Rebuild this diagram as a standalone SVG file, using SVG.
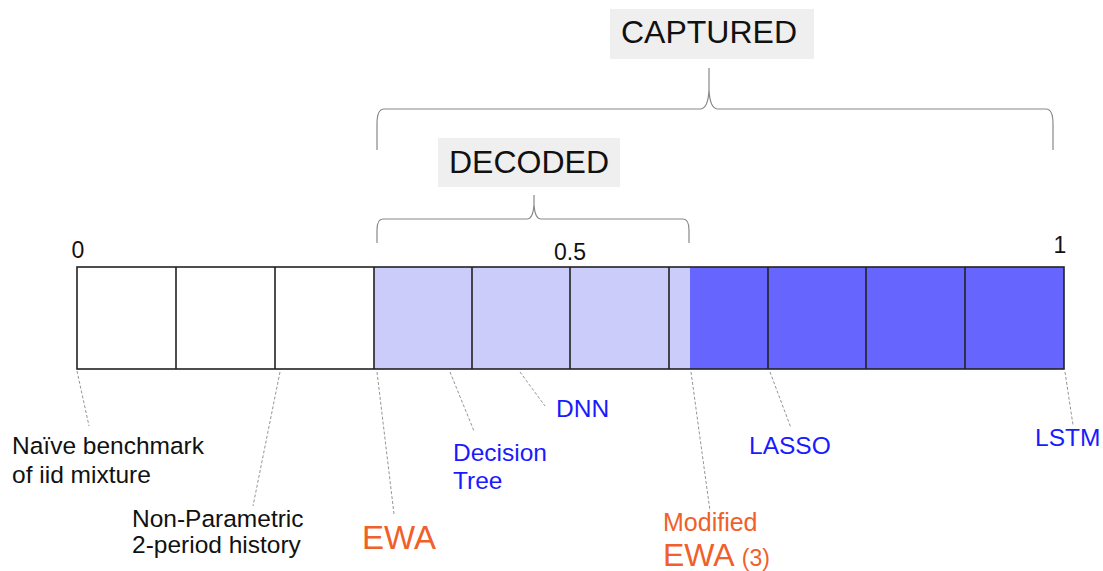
<svg xmlns="http://www.w3.org/2000/svg" width="1103" height="571" viewBox="0 0 1103 571">
  <style>
    text { font-family: "Liberation Sans", Arial, sans-serif; }
    .title { font-size: 32px; fill: #111; }
    .tick { font-size: 23px; fill: #111; }
    .lbl { font-size: 24.5px; fill: #111; }
    .blue { font-size: 24.5px; fill: #1a1aff; }
    .orange { fill: #f0602a; }
    .tag { fill: #efefef; }
    .brace { fill: none; stroke: #888; stroke-width: 1.2; }
    .leader { fill: none; stroke: #888; stroke-width: 0.9; stroke-dasharray: 3 2; }
    .cell { fill: none; stroke: #222; stroke-width: 1.6; }
  </style>

  <!-- CAPTURED bracket and tag -->
  <g id="captured">
    <rect class="tag" x="610" y="9" width="204" height="50"/>
    <text class="title" x="709" y="43" text-anchor="middle">CAPTURED</text>
    <path class="brace" d="M377,150 V124 Q377,109 384,109 H700 Q708,109 709,90 V68 V90 Q710,109 718,109 H1046 Q1053,109 1053,124 V150"/>
  </g>

  <!-- DECODED bracket and tag -->
  <g id="decoded">
    <rect class="tag" x="438" y="138" width="182" height="49"/>
    <text class="title" x="529" y="173" text-anchor="middle">DECODED</text>
    <path class="brace" d="M377,243 V230 Q377,219 383,219 H527 Q533,219 534,205 V195 V205 Q535,219 541,219 H683 Q689,219 689,230 V243"/>
  </g>

  <!-- scale bar from 0 to 1 -->
  <g id="scale">
    <rect x="374" y="267" width="316" height="102" fill="#ccccfa"/>
    <rect x="690" y="267" width="374" height="102" fill="#6666ff"/>
    <rect class="cell" x="77" y="267" width="987" height="102"/>
    <path class="cell" d="M176,267 V369 M275,267 V369 M374,267 V369 M472,267 V369 M570,267 V369 M669,267 V369 M768,267 V369 M866,267 V369 M965,267 V369"/>
    <text class="tick" x="78" y="258" text-anchor="middle">0</text>
    <text class="tick" x="570" y="260" text-anchor="middle">0.5</text>
    <text class="tick" x="1060" y="253" text-anchor="middle">1</text>
  </g>

  <!-- leader lines from the bar to the model labels -->
  <g id="connectors">
    <path class="leader" d="M77,371 L89,426"/>
    <path class="leader" d="M280,372 L253,506"/>
    <path class="leader" d="M377,372 L394,514"/>
    <path class="leader" d="M450,372 L474,431"/>
    <path class="leader" d="M520,372 L545,406"/>
    <path class="leader" d="M691,372 L710,511"/>
    <path class="leader" d="M770,372 L791,428"/>
    <path class="leader" d="M1065,372 L1073,425"/>
  </g>

  <g id="naive">
    <text class="lbl" x="12" y="454">Naïve benchmark</text>
    <text class="lbl" x="12" y="483">of iid mixture</text>
  </g>
  <g id="nonparametric">
    <text class="lbl" x="132" y="527">Non-Parametric</text>
    <text class="lbl" x="132" y="553">2-period history</text>
  </g>
  <g id="ewa">
    <text class="orange" x="362" y="549" font-size="33">EWA</text>
  </g>
  <g id="decision-tree">
    <text class="blue" x="453" y="461">Decision</text>
    <text class="blue" x="453" y="489">Tree</text>
  </g>
  <g id="dnn">
    <text class="blue" x="556" y="417">DNN</text>
  </g>
  <g id="modified-ewa">
    <text class="orange" x="663" y="531" font-size="25">Modified</text>
    <text class="orange" x="663" y="566" font-size="32">EWA <tspan font-size="23">(3)</tspan></text>
  </g>
  <g id="lasso">
    <text class="blue" x="749" y="454">LASSO</text>
  </g>
  <g id="lstm">
    <text class="blue" x="1035" y="446">LSTM</text>
  </g>
</svg>
